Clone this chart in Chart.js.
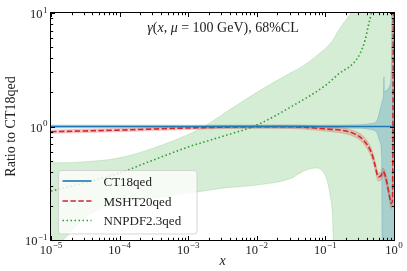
<!DOCTYPE html>
<html><head><meta charset="utf-8">
<script src="https://cdn.jsdelivr.net/npm/chart.js@4.4.0/dist/chart.umd.min.js"></script>
<style>html,body{margin:0;padding:0;background:#fff;}#wrap{width:407px;height:271px;}</style>
</head><body><div id="wrap"><canvas id="c" width="407" height="271"></canvas></div>
<script>
// ---- tick labels ----
const xTickValues = [1e-5, 1e-4, 1e-3, 1e-2, 1e-1, 1];
const xTickExps = ['\u22125', '\u22124', '\u22123', '\u22122', '\u22121', '0'];
const yTickValues = [0.1, 1, 10];
const yTickExps = ['\u22121', '0', '1'];
const seriesNames = ['CT18qed', 'MSHT20qed', 'NNPDF2.3qed'];

// ---- CT18qed (reference, ratio = 1) ----
const ctX      = [1e-5, 1e-3, 0.1, 0.3, 0.45, 0.56, 0.625, 0.66, 0.675, 0.70, 0.715, 0.725, 0.78, 0.87, 0.92, 0.94, 1.0];
const ctCentral= [1, 1, 1, 1, 1, 1, 1, 1, 1, 1, 1, 1, 1, 1, 1, 1, 1];
const ctUpper  = [1.03, 1.03, 1.03, 1.035, 1.06, 1.12, 1.4, 1.6, 1.7, 1.9, 2.75, 2.0, 2.1, 2.3, 4, 30, 30];
const ctLower  = [0.97, 0.97, 0.97, 0.965, 0.94, 0.88, 0.73, 0.53, 0.05, 0.03, 0.03, 0.03, 0.03, 0.03, 0.03, 0.03, 0.03];

// ---- MSHT20qed ----
const mshtX      = [1e-5, 1e-4, 1e-3, 0.01, 0.03, 0.07, 0.1, 0.163, 0.255, 0.357, 0.473, 0.528, 0.59, 0.65, 0.69, 0.72, 0.78, 0.853, 0.912, 0.95, 0.986];
const mshtCentral= [0.90, 0.93, 0.97, 0.995, 0.995, 0.97, 0.95, 0.93, 0.87, 0.76, 0.58, 0.46, 0.36, 0.37, 0.40, 0.39, 0.33, 0.25, 0.21, 0.22, 30];
const mshtUpper  = [0.93, 0.96, 1.0, 1.025, 1.03, 1.01, 0.99, 0.98, 0.92, 0.82, 0.63, 0.50, 0.39, 0.40, 0.43, 0.42, 0.36, 0.27, 0.23, 0.24, 30];
const mshtLower  = [0.87, 0.90, 0.94, 0.965, 0.96, 0.93, 0.91, 0.88, 0.82, 0.71, 0.53, 0.42, 0.33, 0.34, 0.37, 0.36, 0.30, 0.23, 0.19, 0.20, 30];

// ---- NNPDF2.3qed ----
const nnX       = [1e-5, 3.2e-5, 1e-4, 3.2e-4, 1e-3, 3.2e-3, 0.01, 0.032, 0.1, 0.16, 0.255, 0.32, 0.38, 0.42, 0.46, 0.5];
const nnCentral = [0.27, 0.32, 0.39, 0.51, 0.66, 0.82, 1.03, 1.5, 2.3, 2.94, 3.6, 4.4, 5.8, 7.6, 9.6, 13];
const nnBandX   = [1e-5, 1.5e-5, 3.2e-5, 1e-4, 3.2e-4, 1e-3, 1.7e-3, 3e-3, 0.01, 0.032, 0.043, 0.071, 0.089, 0.105, 0.118, 0.127, 0.134, 0.15, 0.25, 0.5, 1.0];
const nnUpper   = [0.48, 0.48, 0.49, 0.53, 0.65, 0.85, 1.0, 1.25, 2.0, 3.0, 3.3, 4.1, 4.6, 5.0, 5.4, 5.7, 6.0, 6.8, 10.5, 20, 30];
const nnLower   = [0.085, 0.1, 0.16, 0.21, 0.235, 0.26, 0.27, 0.285, 0.305, 0.35, 0.39, 0.43, 0.41, 0.34, 0.24, 0.16, 0.05, 0.03, 0.03, 0.03, 0.03];

const pts = (xs, ys) => xs.map((x, i) => ({x: x, y: ys[i]}));

const BLUE = '#1f77b4', RED = '#d62728', GREEN = '#2ca02c';
const SERIF = '"Liberation Serif", "Times New Roman", serif';

function band(xs, ys, color, fill, order) {
  return {data: pts(xs, ys), borderColor: color, backgroundColor: color, borderWidth: 0.8,
          pointRadius: 0, fill: fill, order: order, cubicInterpolationMode: 'monotone'};
}

const datasets = [
  {label: seriesNames[0], data: pts(ctX, ctCentral), borderColor: BLUE, borderWidth: 1.6, pointRadius: 0, fill: false, order: 1},
  {label: seriesNames[1], data: pts(mshtX, mshtCentral), borderColor: RED, borderWidth: 1.6, borderDash: [5.5, 2.4], pointRadius: 0, fill: false, order: 2, cubicInterpolationMode: 'monotone'},
  {label: seriesNames[2], data: pts(nnX, nnCentral), borderColor: GREEN, borderWidth: 1.6, borderDash: [1.5, 2.5], pointRadius: 0, fill: false, order: 3, cubicInterpolationMode: 'monotone'},
  band(nnBandX, nnUpper, 'rgba(44,160,44,0.2)', false, 20),
  band(nnBandX, nnLower, 'rgba(44,160,44,0.2)', '-1', 20),
  band(ctX, ctUpper, 'rgba(31,119,180,0.25)', false, 12),
  band(ctX, ctLower, 'rgba(31,119,180,0.25)', '-1', 12),
  band(mshtX, mshtUpper, 'rgba(214,39,40,0.22)', false, 11),
  band(mshtX, mshtLower, 'rgba(214,39,40,0.22)', '-1', 11)
];

function drawPow(ctx, exp, x, baseY, align) {
  ctx.font = '12.5px ' + SERIF;
  const wb = ctx.measureText('10').width;
  ctx.font = '9px ' + SERIF;
  const we = ctx.measureText(exp).width;
  const tot = wb + we + 0.5;
  const start = align === 'center' ? x - tot / 2 : x - tot;
  ctx.textAlign = 'left';
  ctx.textBaseline = 'alphabetic';
  ctx.font = '12.5px ' + SERIF;
  ctx.fillText('10', start, baseY);
  ctx.font = '9px ' + SERIF;
  ctx.fillText(exp, start + wb + 0.5, baseY - 5.5);
}

function drawSegs(ctx, segs, x, y, size) {
  let cx = x;
  ctx.textAlign = 'left';
  ctx.textBaseline = 'alphabetic';
  for (const [t, it] of segs) {
    ctx.font = (it ? 'italic ' : '') + size + 'px ' + SERIF;
    ctx.fillText(t, cx, y);
    cx += ctx.measureText(t).width;
  }
}
function segsWidth(ctx, segs, size) {
  let w = 0;
  for (const [t, it] of segs) { ctx.font = (it ? 'italic ' : '') + size + 'px ' + SERIF; w += ctx.measureText(t).width; }
  return w;
}

const decor = {
  id: 'decor',
  afterDraw(chart) {
    const ctx = chart.ctx, a = chart.chartArea;
    const xs = chart.scales.x, ys = chart.scales.y;
    ctx.save();
    ctx.strokeStyle = '#000'; ctx.fillStyle = '#000'; ctx.lineWidth = 1;
    // ticks (inward, all sides)
    ctx.beginPath();
    for (let k = -5; k <= 0; k++) {
      for (let m = 1; m <= 9; m++) {
        const v = m * Math.pow(10, k);
        if (v > 1.0000001) break;
        const p = Math.round(xs.getPixelForValue(v)) + 0.5;
        const L = m === 1 ? 4 : 2.2;
        ctx.moveTo(p, a.bottom); ctx.lineTo(p, a.bottom - L);
        ctx.moveTo(p, a.top); ctx.lineTo(p, a.top + L);
      }
    }
    for (let k = -1; k <= 1; k++) {
      for (let m = 1; m <= 9; m++) {
        const v = m * Math.pow(10, k);
        if (v > 10.000001) break;
        const p = Math.round(ys.getPixelForValue(v)) + 0.5;
        const L = m === 1 ? 4 : 2.2;
        ctx.moveTo(a.left, p); ctx.lineTo(a.left + L, p);
        ctx.moveTo(a.right, p); ctx.lineTo(a.right - L, p);
      }
    }
    ctx.stroke();
    // frame
    ctx.strokeRect(a.left - 0.5, a.top - 0.5, a.right - a.left + 1, a.bottom - a.top + 1);
    // tick labels
    ctx.fillStyle = '#222';
    xTickValues.forEach((v, i) => drawPow(ctx, xTickExps[i], xs.getPixelForValue(v), a.bottom + 13.5, 'center'));
    yTickValues.forEach((v, i) => drawPow(ctx, yTickExps[i], a.left - 3.5, ys.getPixelForValue(v) + 5, 'right'));
    // axis labels
    ctx.font = 'italic 14px ' + SERIF;
    ctx.textAlign = 'center'; ctx.textBaseline = 'alphabetic';
    ctx.fillText('x', (a.left + a.right) / 2, 265);
    ctx.save();
    ctx.translate(14.5, (a.top + a.bottom) / 2);
    ctx.rotate(-Math.PI / 2);
    ctx.font = '14px ' + SERIF;
    ctx.fillText('Ratio to CT18qed', 0, 0);
    ctx.restore();
    // title inside plot
    const segs = [['\u03b3', true], ['(', false], ['x', true], [', ', false], ['\u03bc', true], [' = 100 GeV), 68%CL', false]];
    let size = 13;
    const w0 = segsWidth(ctx, segs, size);
    size = size * 167 / w0;
    if (size > 14) size = 14;
    const w = segsWidth(ctx, segs, size);
    drawSegs(ctx, segs, 223 - w / 2, 31.5, size);
    // legend
    const lx = 58.5, ly = 170.5, lw = 138.5, lh = 63.5, r = 3;
    ctx.beginPath();
    ctx.moveTo(lx + r, ly); ctx.lineTo(lx + lw - r, ly); ctx.arcTo(lx + lw, ly, lx + lw, ly + r, r);
    ctx.lineTo(lx + lw, ly + lh - r); ctx.arcTo(lx + lw, ly + lh, lx + lw - r, ly + lh, r);
    ctx.lineTo(lx + r, ly + lh); ctx.arcTo(lx, ly + lh, lx, ly + lh - r, r);
    ctx.lineTo(lx, ly + r); ctx.arcTo(lx, ly, lx + r, ly, r);
    ctx.closePath();
    ctx.fillStyle = 'rgba(255,255,255,0.8)';
    ctx.fill();
    ctx.strokeStyle = 'rgba(204,204,204,0.8)';
    ctx.lineWidth = 1;
    ctx.stroke();
    const rows = [181, 201, 220.5];
    const cols = [BLUE, RED, GREEN];
    const dashes = [[], [5.5, 2.4], [1.5, 2.5]];
    rows.forEach((yy, i) => {
      ctx.beginPath();
      ctx.setLineDash(dashes[i]);
      ctx.strokeStyle = cols[i];
      ctx.lineWidth = 1.6;
      ctx.moveTo(62.5, yy); ctx.lineTo(91.5, yy);
      ctx.stroke();
      ctx.setLineDash([]);
      ctx.fillStyle = '#222';
      ctx.font = '13px ' + SERIF;
      ctx.textAlign = 'left'; ctx.textBaseline = 'alphabetic';
      ctx.fillText(seriesNames[i], 103.5, yy + 4.5);
    });
    ctx.restore();
  }
};

new Chart(document.getElementById('c'), {
  type: 'line',
  data: {datasets: datasets},
  options: {
    responsive: false,
    animation: false,
    devicePixelRatio: 1,
    layout: {padding: {left: 51, right: 13, top: 13, bottom: 31}},
    plugins: {legend: {display: false}, tooltip: {enabled: false}, filler: {propagate: false}},
    scales: {
      x: {type: 'logarithmic', min: 1e-5, max: 1, display: false},
      y: {type: 'logarithmic', min: 0.1, max: 10, display: false}
    }
  },
  plugins: [decor]
});
</script>
</body></html>
